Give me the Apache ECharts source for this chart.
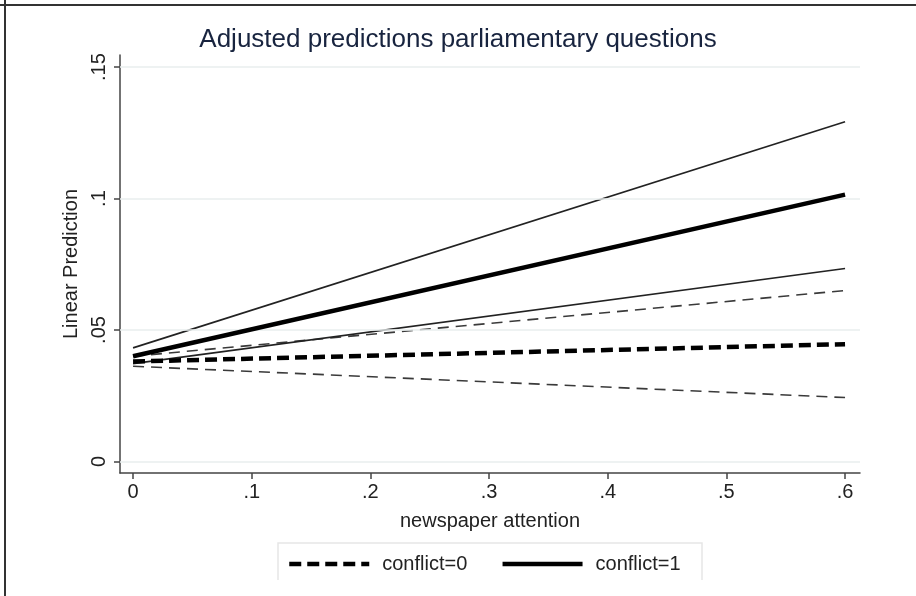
<!DOCTYPE html>
<html>
<head>
<meta charset="utf-8">
<script src="https://cdn.jsdelivr.net/npm/echarts@6/dist/echarts.min.js"></script>
<style>
html,body{margin:0;padding:0;background:#fff;}
#c{width:916px;height:596px;}
</style>
</head>
<body>
<div id="c"></div>
<script>
// x values (newspaper attention)
var xValues = [0, 0.6];
// conflict=0 (dashed)
var c0Mean  = [0.0380, 0.0446];
var c0Upper = [0.0400, 0.0650];
var c0Lower = [0.0362, 0.0243];
// conflict=1 (solid)
var c1Mean  = [0.0400, 0.1015];
var c1Upper = [0.0432, 0.1292];
var c1Lower = [0.0372, 0.0734];
// ticks
var yTicks = [0, 0.05, 0.1, 0.15];
var yTickLabels = ['0', '.05', '.1', '.15'];
var xTicks = [0, 0.1, 0.2, 0.3, 0.4, 0.5, 0.6];
var xTickLabels = ['0', '.1', '.2', '.3', '.4', '.5', '.6'];

function pairs(ys){ return xValues.map(function(x,i){ return [x, ys[i]]; }); }
function lbl(ticks, labels){ return function(v){ for (var i=0;i<ticks.length;i++){ if (Math.abs(v-ticks[i])<1e-9) return labels[i]; } return ''; }; }

var chart = echarts.init(document.getElementById('c'), null, {renderer:'canvas'});
var font = 'Liberation Sans, Arial, sans-serif';
var base = {type:'line', symbol:'none', showSymbol:false, silent:true, animation:false};
function ser(name, data, width, dashed, color){
  return Object.assign({}, base, {
    name:name, data:pairs(data), z: width>2?5:3,
    lineStyle:{color:color, width:width, type: dashed ? dashed : 'solid', cap:'butt'},
    itemStyle:{color:color}
  });
}
var gridSeries = Object.assign({}, base, {
  name:'grid', data:[], z:1,
  markLine:{silent:true, symbol:'none', label:{show:false}, animation:false,
    lineStyle:{color:'#e8eeee', width:1.5, type:'solid'},
    data: yTicks.map(function(v){ return {yAxis:v}; })}
});

chart.setOption({
  backgroundColor:'#fff',
  animation:false,
  title:{text:'Adjusted predictions parliamentary questions', left:'center', top:22,
    textStyle:{fontFamily:font, fontSize:26, fontWeight:'normal', color:'#18243f'}},
  grid:{left:120, right:56, top:55, bottom:123, containLabel:false},
  xAxis:{type:'value', min:-0.011, max:0.6126,
    name:'newspaper attention', nameLocation:'middle', nameGap:38,
    nameTextStyle:{fontFamily:font, fontSize:20, color:'#222'},
    axisLine:{show:true, onZero:false, lineStyle:{color:'#444', width:1.5}},
    axisTick:{show:true, length:6, customValues:xTicks, lineStyle:{color:'#444', width:1.5}},
    axisLabel:{customValues:xTicks, formatter:lbl(xTicks, xTickLabels), margin:9,
      fontFamily:font, fontSize:20, color:'#222'},
    splitLine:{show:false}},
  yAxis:{type:'value', min:-0.0044, max:0.1546,
    name:'Linear Prediction', nameLocation:'middle', nameGap:36, nameRotate:90,
    nameTextStyle:{fontFamily:font, fontSize:20, color:'#222'},
    axisLine:{show:true, onZero:false, lineStyle:{color:'#444', width:1.5}},
    axisTick:{show:true, length:6, customValues:yTicks, lineStyle:{color:'#444', width:1.5}},
    axisLabel:{customValues:yTicks, formatter:lbl(yTicks, yTickLabels), rotate:90, margin:11,
      fontFamily:font, fontSize:20, color:'#222', align:'center', verticalAlign:'bottom'},
    splitLine:{show:false}},
  legend:{data:['conflict=0','conflict=1'], left:282, top:549, itemWidth:80, itemHeight:12,
    itemGap:33, itemStyle:{opacity:0}, lineStyle:{width:4.5},
    textStyle:{fontFamily:font, fontSize:20, color:'#222', padding:[0,0,0,8]},
    selectedMode:false},
  graphic:[
    {type:'line', shape:{x1:5, y1:0, x2:5, y2:596}, style:{stroke:'#333', lineWidth:2}},
    {type:'line', shape:{x1:0, y1:5, x2:916, y2:5}, style:{stroke:'#333', lineWidth:2}},
    {type:'polyline', shape:{points:[[278,580],[278,543],[702,543],[702,580]]}, style:{stroke:'#e6e6e6', lineWidth:1.5, fill:null}}
  ],
  series:[
    gridSeries,
    ser('ci0u', c0Upper, 1.6, [11,7], '#3a3a3a'),
    ser('ci0l', c0Lower, 1.6, [11,7], '#3a3a3a'),
    ser('ci1u', c1Upper, 1.6, 'solid', '#222'),
    ser('ci1l', c1Lower, 1.6, 'solid', '#222'),
    ser('conflict=0', c0Mean, 4.5, [12,6], '#000'),
    ser('conflict=1', c1Mean, 4.5, 'solid', '#000')
  ]
});
</script>
</body>
</html>
